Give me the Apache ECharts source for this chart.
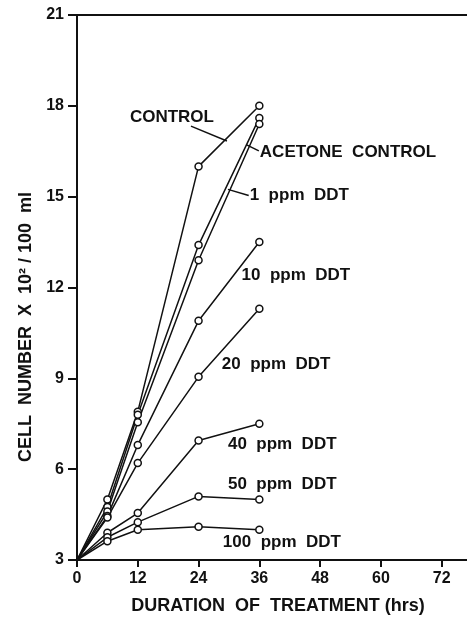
<!DOCTYPE html>
<html><head><meta charset="utf-8">
<script src="https://cdn.jsdelivr.net/npm/echarts@6/dist/echarts.min.js"></script>
<style>html,body{margin:0;padding:0;background:#fff}#c{width:467px;height:620px}</style>
</head><body><div id="c"></div>
<script>
const hours = [0, 6, 12, 24, 36];
const xTicks = [0, 12, 24, 36, 48, 60, 72];
const yTicks = [3, 6, 9, 12, 15, 18, 21];
const seriesNames = ['CONTROL', 'ACETONE CONTROL', '1 ppm DDT', '10 ppm DDT', '20 ppm DDT', '40 ppm DDT', '50 ppm DDT', '100 ppm DDT'];
const control = [3, 5.0, 7.9, 16.0, 18.0];
const acetone = [3, 4.75, 7.8, 13.4, 17.6];
const ppm1 = [3, 4.6, 7.55, 12.9, 17.4];
const ppm10 = [3, 4.45, 6.8, 10.9, 13.5];
const ppm20 = [3, 4.4, 6.2, 9.05, 11.3];
const ppm40 = [3, 3.9, 4.55, 6.95, 7.5];
const ppm50 = [3, 3.75, 4.25, 5.1, 5.0];
const ppm100 = [3, 3.62, 4.0, 4.1, 4.0];
const allValues = [control, acetone, ppm1, ppm10, ppm20, ppm40, ppm50, ppm100];

// annotation labels: text, anchor in data units (left edge, middle)
const labelTexts = ['CONTROL', 'ACETONE  CONTROL', '1  ppm  DDT', '10  ppm  DDT', '20  ppm  DDT', '40  ppm  DDT', '50  ppm  DDT', '100  ppm  DDT'];
const labelAnchors = [[10.45, 17.63], [36.1, 16.48], [34.1, 15.04], [32.5, 12.39], [28.6, 9.45], [29.8, 6.83], [29.8, 5.49], [28.8, 3.59]];
const leaders = [[[22.5, 17.33], [29.6, 16.84]], [[33.5, 16.71], [35.9, 16.51]], [[29.8, 15.24], [33.9, 15.04]]];

const INK = '#111';
const FONT = 'Liberation Sans, Arial, sans-serif';
const chart = echarts.init(document.getElementById('c'), null, {renderer: 'canvas'});

const series = allValues.map((vals, i) => ({
  name: seriesNames[i],
  type: 'line',
  data: vals.map((v, j) => j === 0 ? {value: [hours[j], v], symbol: 'none'} : [hours[j], v]),
  symbol: 'circle',
  symbolSize: 7,
  itemStyle: {color: '#fff', borderColor: INK, borderWidth: 1.5},
  lineStyle: {color: INK, width: 1.5},
  z: 3,
  animation: false
}));

chart.setOption({
  animation: false,
  backgroundColor: '#fff',
  grid: {left: 77, right: 0, top: 15, bottom: 55},
  xAxis: [{
    type: 'value', min: 0, max: 77, interval: 12,
    axisLine: {show: true, onZero: false, lineStyle: {color: INK, width: 2}},
    axisTick: {show: true, inside: false, length: 7, lineStyle: {color: INK, width: 2}, customValues: xTicks},
    axisLabel: {color: INK, fontSize: 16, fontFamily: FONT, fontWeight: 'bold', margin: 11, customValues: xTicks},
    splitLine: {show: false},
    name: 'DURATION  OF  TREATMENT (hrs)', nameLocation: 'middle', nameGap: 37,
    nameTextStyle: {color: INK, fontSize: 18, fontFamily: FONT, fontWeight: 'bold', padding: [0, 0, 0, 12]}
  }, {
    type: 'value', min: 0, max: 77, position: 'top',
    axisLine: {show: true, lineStyle: {color: INK, width: 2}},
    axisTick: {show: false}, axisLabel: {show: false}, splitLine: {show: false}
  }],
  yAxis: {
    type: 'value', min: 3, max: 21, interval: 3,
    axisLine: {show: true, onZero: false, lineStyle: {color: INK, width: 2}},
    axisTick: {show: true, length: 9, lineStyle: {color: INK, width: 2}, customValues: yTicks},
    axisLabel: {color: INK, fontSize: 16, fontFamily: FONT, fontWeight: 'bold', margin: 13, customValues: yTicks},
    splitLine: {show: false}
  },
  series: series
});

const g = [];
labelTexts.forEach((t, i) => {
  const p = chart.convertToPixel({gridIndex: 0}, labelAnchors[i]);
  g.push({type: 'text', x: p[0], y: p[1], z: 10,
    style: {text: t, fill: INK, font: 'bold 17px ' + FONT, textAlign: 'left', textVerticalAlign: 'middle'}});
});
leaders.forEach(seg => {
  const a = chart.convertToPixel({gridIndex: 0}, seg[0]);
  const b = chart.convertToPixel({gridIndex: 0}, seg[1]);
  g.push({type: 'line', z: 10, shape: {x1: a[0], y1: a[1], x2: b[0], y2: b[1]}, style: {stroke: INK, lineWidth: 1.5}});
});
g.push({type: 'text', x: 26, y: 327, rotation: Math.PI / 2, z: 10,
  style: {text: 'CELL  NUMBER  X  10² / 100  ml', fill: INK, font: 'bold 18px ' + FONT, textAlign: 'center', textVerticalAlign: 'middle'}});
chart.setOption({graphic: g});
</script></body></html>
